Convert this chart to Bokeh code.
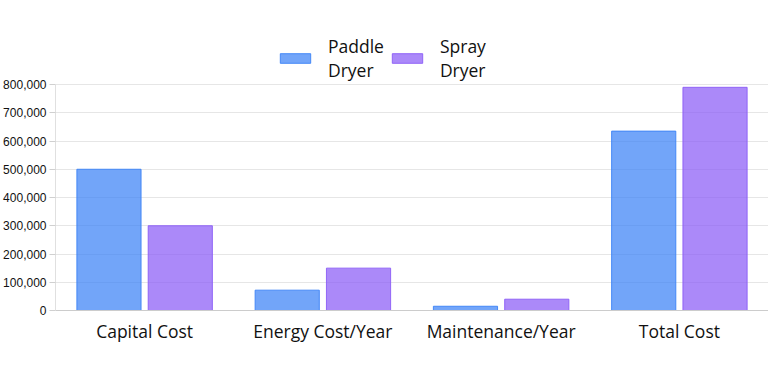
from bokeh.plotting import figure
from bokeh.models import ColumnDataSource, Range1d, NumeralTickFormatter, Legend, LegendItem, FactorRange, FixedTicker
from bokeh.transform import dodge
from bokeh.embed import file_html
from bokeh.resources import INLINE

categories = ["Capital Cost", "Energy Cost/Year", "Maintenance/Year", "Total Cost"]
paddle_dryer = [500000, 72000, 15000, 635000]
spray_dryer = [300000, 150000, 40000, 790000]
series_names = ["Paddle\nDryer", "Spray\nDryer"]
y_ticks = [0, 100000, 200000, 300000, 400000, 500000, 600000, 700000, 800000]
y_max = 800000

source = ColumnDataSource(dict(cat=categories, paddle=paddle_dryer, spray=spray_dryer))

# frame extends above the top tick so the legend can sit inside it
p = figure(x_range=FactorRange(*categories), y_range=Range1d(0, y_max * 280 / 226),
           width=768, height=372, output_backend="svg", toolbar_location=None,
           min_border_left=53, min_border_right=0, min_border_top=30, min_border_bottom=62)
p.outline_line_color = None

blue = "#3b82f6"
purple = "#8b5cf6"
r1 = p.vbar(x=dodge("cat", -0.2, range=p.x_range), top="paddle", width=0.36, source=source,
            fill_color=blue, fill_alpha=0.72, line_color=blue, line_alpha=0.9, line_width=1)
r2 = p.vbar(x=dodge("cat", 0.2, range=p.x_range), top="spray", width=0.36, source=source,
            fill_color=purple, fill_alpha=0.72, line_color=purple, line_alpha=0.9, line_width=1)

p.xgrid.grid_line_color = None
p.ygrid.grid_line_color = "#e6e6e6"
p.yaxis.ticker = FixedTicker(ticks=y_ticks)
p.yaxis.bounds = (0, y_max)
p.yaxis.formatter = NumeralTickFormatter(format="0,0")
p.yaxis.major_label_text_font = "Liberation Sans"
p.yaxis.major_label_text_font_size = "12px"
p.yaxis.major_label_text_color = "#111111"
p.yaxis.axis_line_color = "#e0e0e0"
p.yaxis.major_tick_line_color = "#d0d0d0"
p.yaxis.major_tick_out = 6
p.yaxis.major_tick_in = 0
p.yaxis.minor_tick_line_color = None
p.yaxis.major_label_standoff = 3

p.xaxis.major_label_text_font = "Open Sans"
p.xaxis.major_label_text_font_size = "17.5px"
p.xaxis.major_label_text_color = "#111111"
p.xaxis.axis_line_color = "#cccccc"
p.xaxis.major_tick_line_color = None
p.xaxis.minor_tick_line_color = None
p.xaxis.major_label_standoff = 2

legend = Legend(items=[LegendItem(label=series_names[0], renderers=[r1]),
                       LegendItem(label=series_names[1], renderers=[r2])],
                orientation="horizontal", location=(221, 228))
legend.label_text_font = "Open Sans"
legend.label_text_font_size = "17.5px"
legend.label_text_color = "#111111"
legend.label_text_line_height = 1.45
legend.glyph_width = 38
legend.glyph_height = 12
legend.label_standoff = 14
legend.spacing = 4
legend.border_line_color = None
legend.background_fill_alpha = 0
legend.margin = 0
legend.padding = 4
p.add_layout(legend, "center")

open("out.html", "w").write(file_html(p, INLINE))
